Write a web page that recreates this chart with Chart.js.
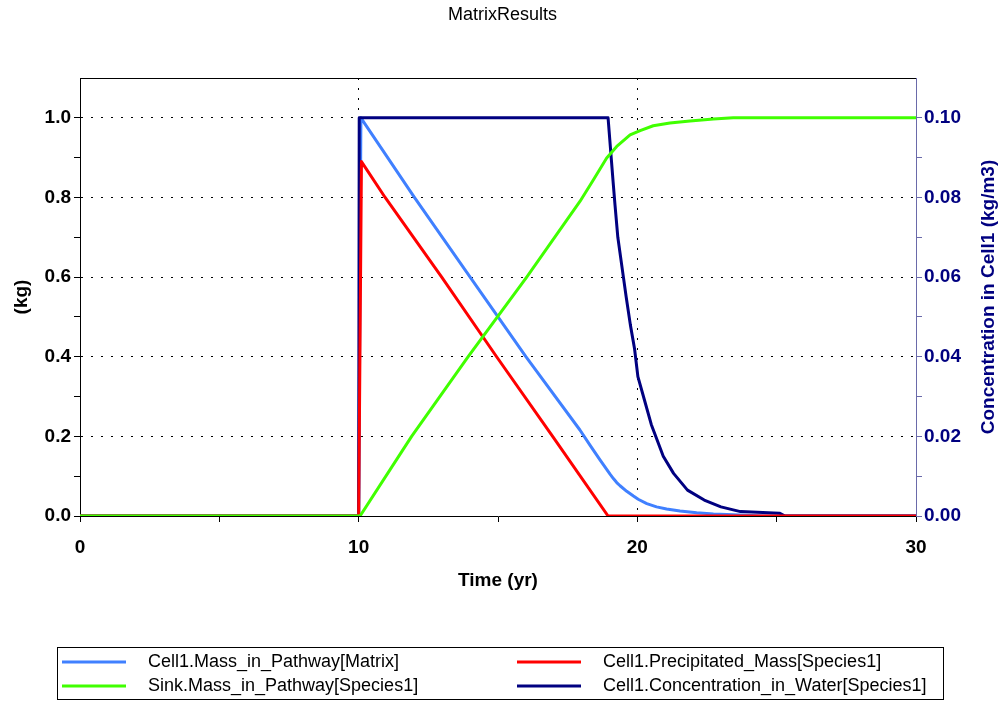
<!DOCTYPE html>
<html>
<head>
<meta charset="utf-8">
<title>MatrixResults</title>
<script src="https://cdn.jsdelivr.net/npm/chart.js@4/dist/chart.umd.min.js"></script>
<style>
    html, body { margin: 0; padding: 0; background: #ffffff; }
    #wrap { width: 1005px; height: 702px; }
</style>
</head>
<body>
<div id="wrap"><canvas id="myChart" width="1005" height="702"></canvas></div>
<script>
"use strict";

// Data (time in yr).
const timeMatrix = [0, 10, 10.08, 12, 14, 16, 17.94, 18.3, 18.66, 18.9, 19.02, 19.14, 19.26, 19.38, 19.62, 19.86, 20.03, 20.34, 20.69, 21.05, 21.53, 22.13, 22.73, 23.68, 24.5, 30];
const massMatrix = [0, 0, 1.0, 0.8, 0.6, 0.4, 0.216, 0.178, 0.141, 0.117, 0.105, 0.094, 0.084, 0.076, 0.062, 0.05, 0.042, 0.031, 0.023, 0.0176, 0.0126, 0.0083, 0.005, 0.0025, 0, 0];

const timePrecip = [0, 10, 10.1, 10.95, 12.98, 14.95, 16.96, 18.95, 30];
const massPrecip = [0, 0, 0.89, 0.8, 0.6, 0.4, 0.2, 0, 0];

const timeSink = [0, 10.05, 11.9, 13.93, 16.03, 17.94, 18.42, 18.9, 19.26, 19.74, 20.1, 20.57, 21.17, 21.89, 22.73, 23.44, 30];
const massSink = [0, 0, 0.2, 0.4, 0.6, 0.79, 0.844, 0.899, 0.928, 0.957, 0.968, 0.98, 0.987, 0.992, 0.997, 1.0, 1.0];

const timeConc = [0, 10, 10.02, 18.95, 19.13, 19.2, 19.3, 19.5, 19.6, 19.75, 19.9, 20.02, 20.26, 20.5, 20.93, 21.3, 21.8, 22.4, 23.0, 23.7, 25.1, 25.3, 30];
const concWater = [0, 0, 0.1, 0.1, 0.084, 0.078, 0.07, 0.06, 0.055, 0.048, 0.042, 0.035, 0.029, 0.023, 0.015, 0.0107, 0.0065, 0.004, 0.0023, 0.0011, 0.0007, 0, 0];

// Tick labels
const timeLabels = [0, 10, 20, 30];
const kgLabels = [0, 0.2, 0.4, 0.6, 0.8, 1.0];
const concLabels = [0, 0.02, 0.04, 0.06, 0.08, 0.10];

const seriesNames = [
    "Cell1.Mass_in_Pathway[Matrix]",
    "Cell1.Precipitated_Mass[Species1]",
    "Sink.Mass_in_Pathway[Species1]",
    "Cell1.Concentration_in_Water[Species1]"
];
const seriesColors = ["#4080ff", "#ff0000", "#40ff00", "#000080"];
const concTitle = "Concentration in Cell1 (kg/m3)";

// Makes {x, y} points of two arrays
function toPoints(times, values) {
    return times.map((t, i) => ({ x: t, y: values[i] }));
}

// Checks if a value is in a list of labels
function isLabel(list, v) {
    return list.some(l => Math.abs(l - v) < 1e-6);
}

const fontFamily = "'Liberation Sans', Arial, sans-serif";
const boldFont = { family: fontFamily, size: 19, weight: "bold" };

// Legend in a box under the chart, two columns, plus the top border
// and the right axis title (read bottom to top like the left one)
const boxLegend = {
    id: "boxLegend",
    afterDraw(chart) {
        const ctx = chart.ctx;
        const a = chart.chartArea;
        ctx.save();
        ctx.strokeStyle = "#000000";
        ctx.lineWidth = 1;
        ctx.strokeRect(57.5, 647.5, 886, 52);
        const cols = [62, 517];
        const rows = [662, 686];
        const slots = [[0, 0], [1, 0], [0, 1], [1, 1]];
        ctx.font = "18px " + fontFamily;
        ctx.textBaseline = "middle";
        ctx.fillStyle = "#000000";
        slots.forEach((s, i) => {
            const x = cols[s[0]];
            const y = rows[s[1]];
            ctx.strokeStyle = seriesColors[i];
            ctx.lineWidth = 3;
            ctx.beginPath();
            ctx.moveTo(x, y);
            ctx.lineTo(x + 64, y);
            ctx.stroke();
            ctx.fillText(seriesNames[i], x + 86, y);
        });

        ctx.strokeStyle = "#000000";
        ctx.lineWidth = 1;
        ctx.beginPath();
        ctx.moveTo(a.left, a.top + 0.5);
        ctx.lineTo(a.right, a.top + 0.5);
        ctx.stroke();

        ctx.translate(989, (a.top + a.bottom) / 2);
        ctx.rotate(-Math.PI / 2);
        ctx.font = "bold 19px " + fontFamily;
        ctx.fillStyle = "#000080";
        ctx.textAlign = "center";
        ctx.textBaseline = "middle";
        ctx.fillText(concTitle, 0, 0);
        ctx.restore();
    }
};

const ctx = document.getElementById("myChart");

new Chart(ctx, {
    type: "line",
    data: {
        datasets: [
            { label: seriesNames[0], data: toPoints(timeMatrix, massMatrix), borderColor: seriesColors[0], yAxisID: "y", order: 3 },
            { label: seriesNames[1], data: toPoints(timePrecip, massPrecip), borderColor: seriesColors[1], yAxisID: "y", order: 1 },
            { label: seriesNames[2], data: toPoints(timeSink, massSink), borderColor: seriesColors[2], yAxisID: "y", order: 0 },
            { label: seriesNames[3], data: toPoints(timeConc, concWater), borderColor: seriesColors[3], yAxisID: "y2", order: 2 }
        ]
    },
    options: {
        responsive: false,
        animation: false,
        devicePixelRatio: 1,
        elements: {
            point: { radius: 0 },
            line: { borderWidth: 3, tension: 0, borderCapStyle: "butt", borderJoinStyle: "round" }
        },
        layout: { padding: { left: 0, right: 0, top: 0, bottom: 110 } },
        plugins: {
            legend: { display: false },
            tooltip: { enabled: false },
            title: {
                display: true,
                text: "MatrixResults",
                color: "#000000",
                font: { family: fontFamily, size: 18, weight: "normal" },
                padding: { top: 4, bottom: 52.4 }
            }
        },
        scales: {
            x: {
                type: "linear",
                min: 0,
                max: 30,
                afterFit: s => { s.height = 76; },
                ticks: {
                    stepSize: 5,
                    color: "#000000",
                    font: boldFont,
                    padding: 14,
                    maxRotation: 0,
                    autoSkip: false,
                    callback: v => isLabel(timeLabels, v) ? String(v) : ""
                },
                grid: {
                    color: c => (c.tick && (c.tick.value === 10 || c.tick.value === 20)) ? "#000000" : "rgba(0,0,0,0)",
                    tickColor: "#000000",
                    tickLength: 6,
                    tickBorderDash: []
                },
                border: { color: "#000000", width: 1, dash: [2, 8] },
                title: { display: true, text: "Time (yr)", color: "#000000", font: boldFont, padding: { top: 0, bottom: 0 } }
            },
            y: {
                position: "left",
                min: 0,
                max: 1.1,
                afterFit: s => { s.width = 80; },
                ticks: {
                    stepSize: 0.1,
                    color: "#000000",
                    font: boldFont,
                    padding: 3,
                    autoSkip: false,
                    callback: v => isLabel(kgLabels, v) ? v.toFixed(1) : ""
                },
                grid: {
                    color: c => (c.tick && c.tick.value > 0.01 && isLabel(kgLabels, c.tick.value)) ? "#000000" : "rgba(0,0,0,0)",
                    tickColor: c => (c.tick && c.tick.value > 1.05) ? "rgba(0,0,0,0)" : "#000000",
                    tickLength: 6,
                    tickBorderDash: []
                },
                border: { color: "#000000", width: 1, dash: [2, 8] },
                title: { display: true, text: "(kg)", color: "#000000", font: boldFont, padding: { top: 10, bottom: 0 } }
            },
            y2: {
                position: "right",
                min: 0,
                max: 0.11,
                afterFit: s => { s.width = 89; },
                ticks: {
                    stepSize: 0.01,
                    color: "#000080",
                    font: boldFont,
                    padding: 2,
                    autoSkip: false,
                    callback: v => isLabel(concLabels, v) ? v.toFixed(2) : ""
                },
                grid: {
                    drawOnChartArea: false,
                    tickColor: c => (c.tick && c.tick.value > 0.105) ? "rgba(0,0,0,0)" : "#6a6aaa",
                    tickLength: 6
                },
                border: { color: "#6a6aaa", width: 1 }
            }
        }
    },
    plugins: [boxLegend]
});
</script>
</body>
</html>
